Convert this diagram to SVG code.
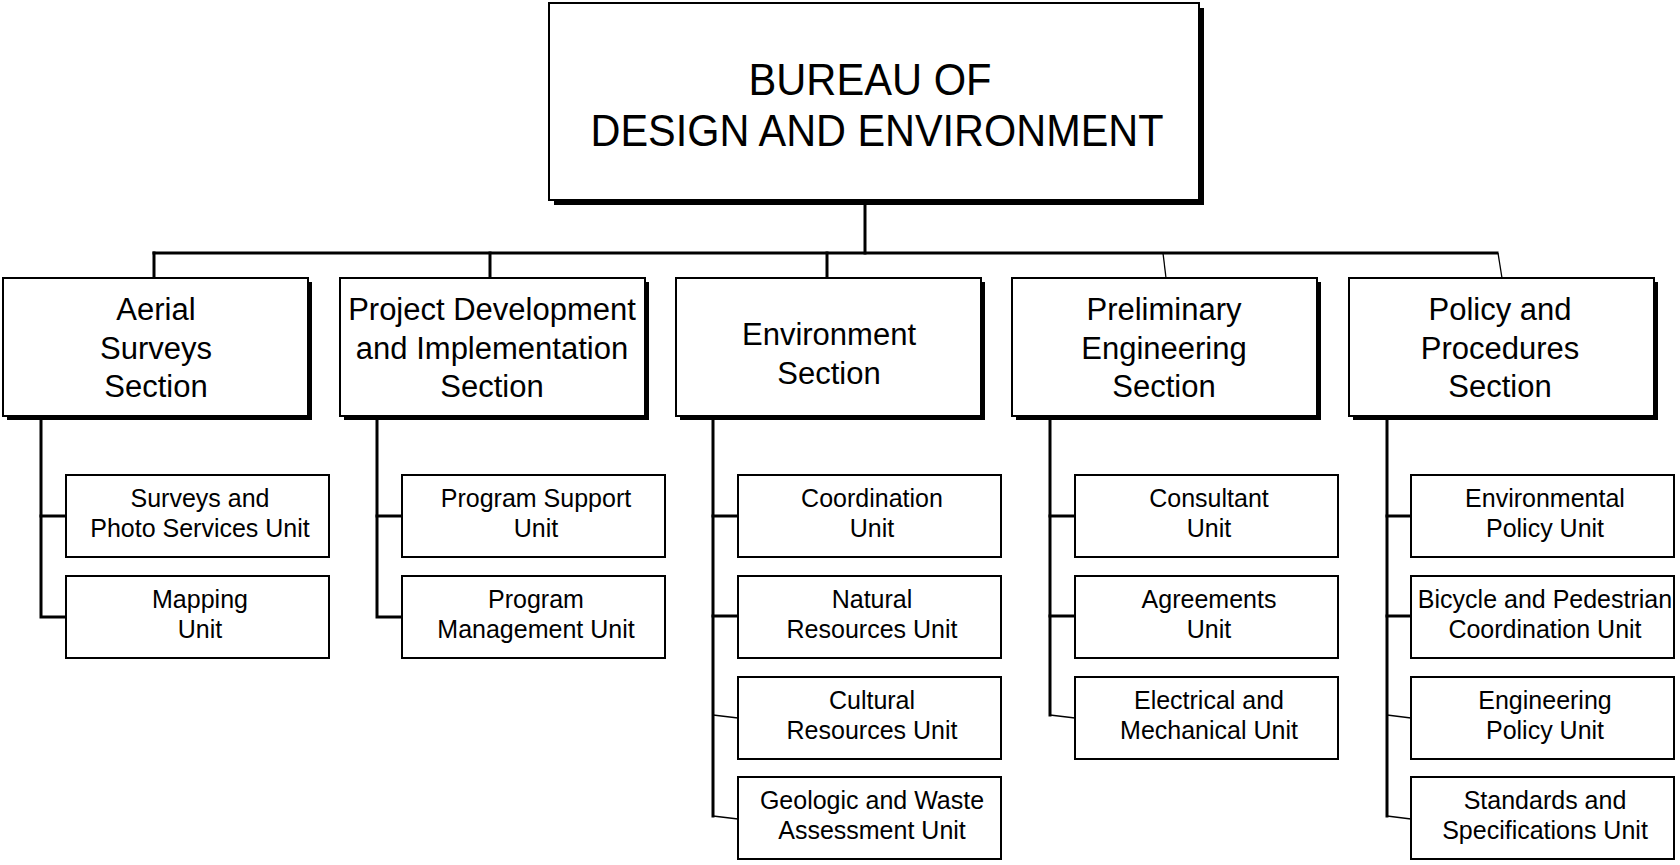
<svg xmlns="http://www.w3.org/2000/svg" width="1680" height="865" viewBox="0 0 1680 865">
  <style>
    .box { fill: #fff; stroke: #000; stroke-width: 2; }
    .shadow { fill: #000; }
    .unit { fill: #fff; stroke: #000; stroke-width: 2; }
    .wire { stroke: #000; stroke-width: 3; fill: none; stroke-linecap: square; }
    .thin { stroke: #000; stroke-width: 1.3; fill: none; }
    text { font-family: "Liberation Sans", Arial, sans-serif; fill: #000; text-anchor: middle; }
    .t-title { font-size: 44px; }
    .t-sec { font-size: 31px; }
    .t-unit { font-size: 25px; }
  </style>

  <rect width="1680" height="865" fill="#fff"/>

  <!-- connectors -->
  <g id="connectors">
    <line class="wire" x1="865" y1="201" x2="865" y2="253"/>
    <line class="wire" x1="154" y1="253" x2="1497" y2="253"/>
    <line class="wire" x1="154" y1="253" x2="154" y2="277"/>
    <line class="wire" x1="490" y1="253" x2="490" y2="277"/>
    <line class="wire" x1="827" y1="253" x2="827" y2="277"/>
    <line class="thin" x1="1163" y1="253" x2="1166" y2="278"/>
    <line class="thin" x1="1498" y1="253" x2="1502" y2="278"/>

    <!-- Aerial Surveys -->
    <polyline class="wire" points="41,417 41,617 66,617"/>
    <line class="wire" x1="41" y1="516" x2="66" y2="516"/>
    <!-- Project Development -->
    <polyline class="wire" points="377,417 377,617 402,617"/>
    <line class="wire" x1="377" y1="516" x2="402" y2="516"/>
    <!-- Environment -->
    <polyline class="wire" points="713,417 713,816"/>
    <line class="wire" x1="713" y1="516" x2="738" y2="516"/>
    <line class="wire" x1="713" y1="616" x2="738" y2="616"/>
    <line class="thin" x1="713" y1="715" x2="738" y2="718"/>
    <line class="thin" x1="713" y1="816" x2="738" y2="819"/>
    <!-- Preliminary Engineering -->
    <polyline class="wire" points="1050,417 1050,715"/>
    <line class="wire" x1="1050" y1="516" x2="1075" y2="516"/>
    <line class="wire" x1="1050" y1="616" x2="1075" y2="616"/>
    <line class="thin" x1="1050" y1="715" x2="1075" y2="718"/>
    <!-- Policy and Procedures -->
    <polyline class="wire" points="1387,417 1387,816"/>
    <line class="wire" x1="1387" y1="516" x2="1411" y2="516"/>
    <line class="wire" x1="1387" y1="616" x2="1411" y2="616"/>
    <line class="thin" x1="1387" y1="715" x2="1411" y2="718"/>
    <line class="thin" x1="1387" y1="816" x2="1411" y2="819"/>
  </g>

  <!-- top node -->
  <g id="bureau">
    <rect class="shadow" x="554" y="8" width="650" height="197"/>
    <rect class="box" x="549" y="3" width="650" height="197"/>
    <text class="t-title" x="870" y="95" textLength="243" lengthAdjust="spacingAndGlyphs">BUREAU OF</text>
    <text class="t-title" x="877" y="146" textLength="573" lengthAdjust="spacingAndGlyphs">DESIGN AND ENVIRONMENT</text>
  </g>

  <!-- sections -->
  <g id="aerial-surveys">
    <rect class="shadow" x="7" y="282" width="305" height="138"/>
    <rect class="box" x="3" y="278" width="305" height="138"/>
    <text class="t-sec" x="156" y="320">Aerial</text>
    <text class="t-sec" x="156" y="358.5">Surveys</text>
    <text class="t-sec" x="156" y="397">Section</text>
  </g>
  <g id="project-development">
    <rect class="shadow" x="344" y="282" width="305" height="138"/>
    <rect class="box" x="340" y="278" width="305" height="138"/>
    <text class="t-sec" x="492" y="320">Project Development</text>
    <text class="t-sec" x="492" y="358.5">and Implementation</text>
    <text class="t-sec" x="492" y="397">Section</text>
  </g>
  <g id="environment">
    <rect class="shadow" x="680" y="282" width="305" height="138"/>
    <rect class="box" x="676" y="278" width="305" height="138"/>
    <text class="t-sec" x="829" y="345">Environment</text>
    <text class="t-sec" x="829" y="384">Section</text>
  </g>
  <g id="preliminary-engineering">
    <rect class="shadow" x="1016" y="282" width="305" height="138"/>
    <rect class="box" x="1012" y="278" width="305" height="138"/>
    <text class="t-sec" x="1164" y="320">Preliminary</text>
    <text class="t-sec" x="1164" y="358.5">Engineering</text>
    <text class="t-sec" x="1164" y="397">Section</text>
  </g>
  <g id="policy-procedures">
    <rect class="shadow" x="1353" y="282" width="305" height="138"/>
    <rect class="box" x="1349" y="278" width="305" height="138"/>
    <text class="t-sec" x="1500" y="320">Policy and</text>
    <text class="t-sec" x="1500" y="358.5">Procedures</text>
    <text class="t-sec" x="1500" y="397">Section</text>
  </g>

  <!-- units: Aerial Surveys -->
  <g id="surveys-photo">
    <rect class="unit" x="66" y="475" width="263" height="82"/>
    <text class="t-unit" x="200" y="507">Surveys and</text>
    <text class="t-unit" x="200" y="537">Photo Services Unit</text>
  </g>
  <g id="mapping">
    <rect class="unit" x="66" y="576" width="263" height="82"/>
    <text class="t-unit" x="200" y="608">Mapping</text>
    <text class="t-unit" x="200" y="638">Unit</text>
  </g>

  <!-- units: Project Development -->
  <g id="program-support">
    <rect class="unit" x="402" y="475" width="263" height="82"/>
    <text class="t-unit" x="536" y="507">Program Support</text>
    <text class="t-unit" x="536" y="537">Unit</text>
  </g>
  <g id="program-management">
    <rect class="unit" x="402" y="576" width="263" height="82"/>
    <text class="t-unit" x="536" y="608">Program</text>
    <text class="t-unit" x="536" y="638">Management Unit</text>
  </g>

  <!-- units: Environment -->
  <g id="coordination">
    <rect class="unit" x="738" y="475" width="263" height="82"/>
    <text class="t-unit" x="872" y="507">Coordination</text>
    <text class="t-unit" x="872" y="537">Unit</text>
  </g>
  <g id="natural-resources">
    <rect class="unit" x="738" y="576" width="263" height="82"/>
    <text class="t-unit" x="872" y="608">Natural</text>
    <text class="t-unit" x="872" y="638">Resources Unit</text>
  </g>
  <g id="cultural-resources">
    <rect class="unit" x="738" y="677" width="263" height="82"/>
    <text class="t-unit" x="872" y="709">Cultural</text>
    <text class="t-unit" x="872" y="739">Resources Unit</text>
  </g>
  <g id="geologic-waste">
    <rect class="unit" x="738" y="777" width="263" height="82"/>
    <text class="t-unit" x="872" y="809">Geologic and Waste</text>
    <text class="t-unit" x="872" y="839">Assessment Unit</text>
  </g>

  <!-- units: Preliminary Engineering -->
  <g id="consultant">
    <rect class="unit" x="1075" y="475" width="263" height="82"/>
    <text class="t-unit" x="1209" y="507">Consultant</text>
    <text class="t-unit" x="1209" y="537">Unit</text>
  </g>
  <g id="agreements">
    <rect class="unit" x="1075" y="576" width="263" height="82"/>
    <text class="t-unit" x="1209" y="608">Agreements</text>
    <text class="t-unit" x="1209" y="638">Unit</text>
  </g>
  <g id="electrical-mechanical">
    <rect class="unit" x="1075" y="677" width="263" height="82"/>
    <text class="t-unit" x="1209" y="709">Electrical and</text>
    <text class="t-unit" x="1209" y="739">Mechanical Unit</text>
  </g>

  <!-- units: Policy and Procedures -->
  <g id="environmental-policy">
    <rect class="unit" x="1411" y="475" width="263" height="82"/>
    <text class="t-unit" x="1545" y="507">Environmental</text>
    <text class="t-unit" x="1545" y="537">Policy Unit</text>
  </g>
  <g id="bicycle-pedestrian">
    <rect class="unit" x="1411" y="576" width="263" height="82"/>
    <text class="t-unit" x="1545" y="608">Bicycle and Pedestrian</text>
    <text class="t-unit" x="1545" y="638">Coordination Unit</text>
  </g>
  <g id="engineering-policy">
    <rect class="unit" x="1411" y="677" width="263" height="82"/>
    <text class="t-unit" x="1545" y="709">Engineering</text>
    <text class="t-unit" x="1545" y="739">Policy Unit</text>
  </g>
  <g id="standards-specifications">
    <rect class="unit" x="1411" y="777" width="263" height="82"/>
    <text class="t-unit" x="1545" y="809">Standards and</text>
    <text class="t-unit" x="1545" y="839">Specifications Unit</text>
  </g>
</svg>
